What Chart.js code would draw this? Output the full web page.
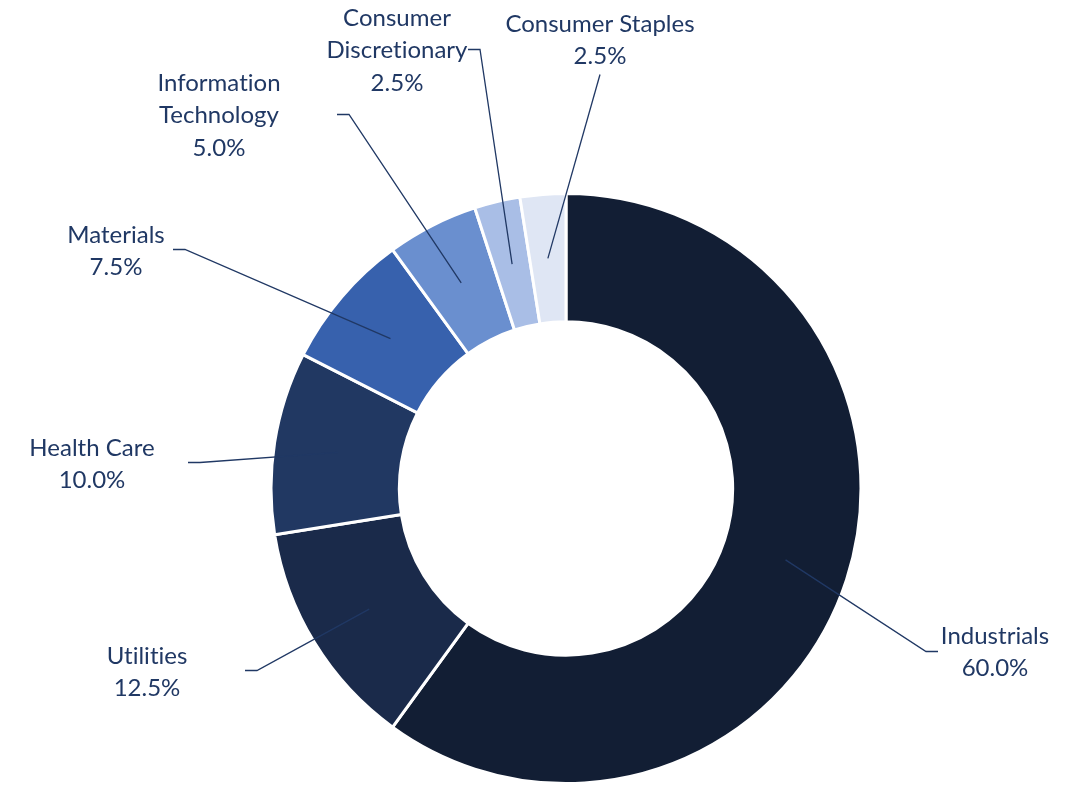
<!DOCTYPE html>
<html>
<head>
<meta charset="utf-8">
<script src="https://cdn.jsdelivr.net/npm/chart.js@4.4.1/dist/chart.umd.min.js"></script>
<style>
    html, body { margin: 0; padding: 0; background: #ffffff; }
    #wrap { width: 1082px; height: 785px; }
</style>
</head>
<body>
<div id="wrap"><canvas id="sectorChart"></canvas></div>
<script>
const sectors = ["Industrials", "Utilities", "Health Care", "Materials", "Information Technology", "Consumer Discretionary", "Consumer Staples"];
const weights = [60.0, 12.5, 10.0, 7.5, 5.0, 2.5, 2.5];
const labelLines = [
    ["Industrials"],
    ["Utilities"],
    ["Health Care"],
    ["Materials"],
    ["Information", "Technology"],
    ["Consumer", "Discretionary"],
    ["Consumer Staples"]
];
const sliceColors = ["#121e34", "#1a2a4a", "#213862", "#3761ad", "#6a8fcf", "#a9bee6", "#dfe6f4"];

// label placement, offsets from the doughnut centre (tx/ty = text block centre, lx/ly = leader start)
const labelLayout = [
    { tx: 429, ty: 164, lx: 372, ly: 163, stub: -12 },
    { tx: -419, ty: 184, lx: -321, ly: 182, stub: 12 },
    { tx: -474, ty: -24, lx: -378, ly: -26, stub: 12 },
    { tx: -450, ty: -237, lx: -393, ly: -239, stub: 12 },
    { tx: -347, ty: -373, lx: -229, ly: -374, stub: 12 },
    { tx: -169, ty: -438, lx: -98, ly: -439, stub: 12 },
    { tx: 34, ty: -448, lx: 34, ly: -414, stub: 0 }
];

const textColor = "#203864";
const lineHeight = 32.5;

const calloutPlugin = {
    id: "callouts",
    afterDatasetsDraw: function (chart) {
        var ctx = chart.ctx;
        var arcs = chart.getDatasetMeta(0).data;
        ctx.save();
        arcs.forEach(function (arc, i) {
            var p = arc.getProps(["x", "y", "startAngle", "endAngle", "innerRadius", "outerRadius"], true);
            var mid = (p.startAngle + p.endAngle) / 2;
            var r = (p.innerRadius + p.outerRadius) / 2;
            var px = p.x + Math.cos(mid) * r;
            var py = p.y + Math.sin(mid) * r;
            var lay = labelLayout[i];

            ctx.strokeStyle = textColor;
            ctx.lineWidth = 1.3;
            ctx.beginPath();
            ctx.moveTo(p.x + lay.lx, p.y + lay.ly);
            ctx.lineTo(p.x + lay.lx + lay.stub, p.y + lay.ly);
            ctx.lineTo(px, py);
            ctx.stroke();

            var lines = labelLines[i].concat([weights[i].toFixed(1) + "%"]);
            ctx.fillStyle = textColor;
            ctx.font = "24px Lato";
            ctx.letterSpacing = "0.01px"; // stops the "ti" ligature
            ctx.textAlign = "center";
            ctx.textBaseline = "middle";
            var top = p.y + lay.ty - (lines.length - 1) * lineHeight / 2;
            lines.forEach(function (t, j) {
                ctx.fillText(t, p.x + lay.tx, top + j * lineHeight);
            });
        });
        ctx.restore();
    }
};

var ctx = document.getElementById("sectorChart").getContext("2d");
new Chart(ctx, {
    type: "doughnut",
    data: {
        labels: sectors,
        datasets: [{
            data: weights,
            backgroundColor: sliceColors,
            borderColor: "#ffffff",
            borderWidth: 3,
            hoverOffset: 0
        }]
    },
    options: {
        responsive: true,
        maintainAspectRatio: false,
        animation: false,
        cutout: "56.5%",
        layout: {
            padding: { top: 192, bottom: 0, left: 269, right: 219 }
        },
        plugins: {
            legend: { display: false },
            tooltip: { enabled: false }
        }
    },
    plugins: [calloutPlugin]
});
</script>
</body>
</html>
